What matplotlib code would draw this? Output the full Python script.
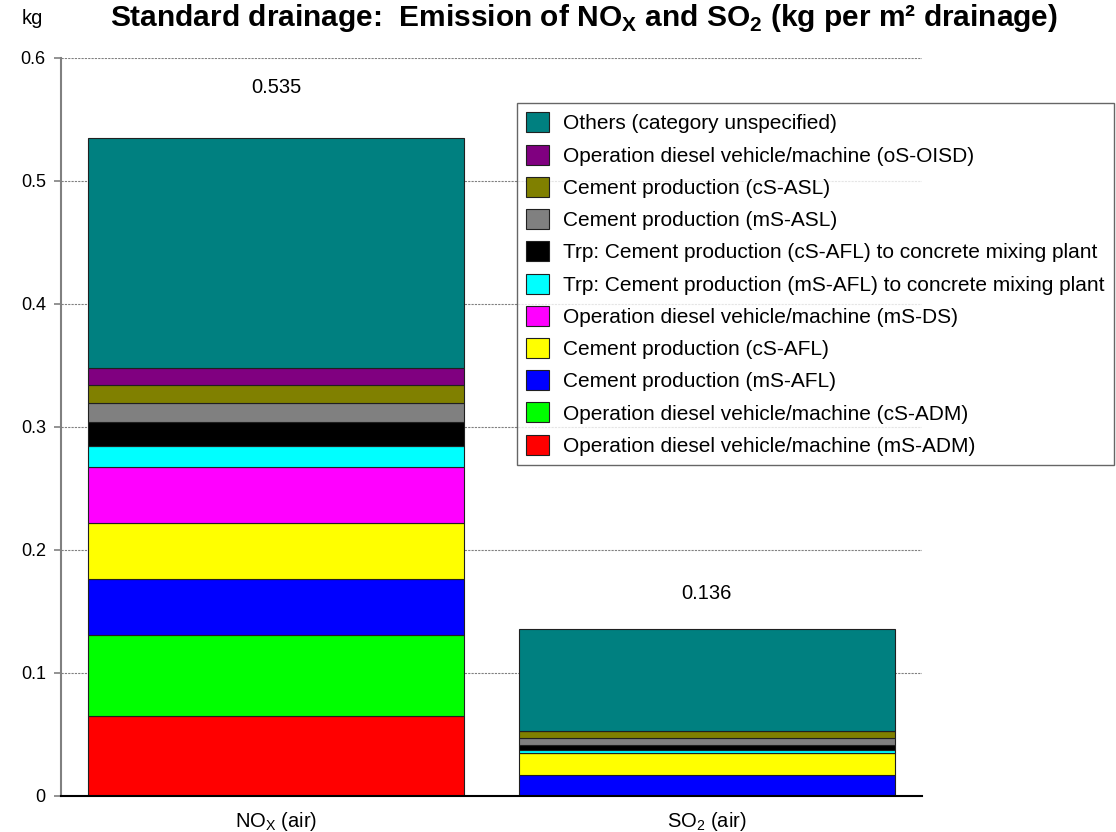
import matplotlib
matplotlib.use('Agg')
import matplotlib.pyplot as plt
import numpy as np

plt.rcParams['font.family'] = ['Liberation Sans', 'DejaVu Sans']
plt.rcParams['mathtext.fontset'] = 'custom'
plt.rcParams['mathtext.rm'] = 'Liberation Sans'
plt.rcParams['mathtext.bf'] = 'Liberation Sans:bold'

# data (kg per m2 drainage), stacked from bottom to top
categorias = [r'NO$_\mathregular{X}$ (air)', r'SO$_\mathregular{2}$ (air)']
totales = [0.535, 0.136]
componentes = [
    'Operation diesel vehicle/machine (mS-ADM)',
    'Operation diesel vehicle/machine (cS-ADM)',
    'Cement production (mS-AFL)',
    'Cement production (cS-AFL)',
    'Operation diesel vehicle/machine (mS-DS)',
    'Trp: Cement production (mS-AFL) to concrete mixing plant',
    'Trp: Cement production (cS-AFL) to concrete mixing plant',
    'Cement production (mS-ASL)',
    'Cement production (cS-ASL)',
    'Operation diesel vehicle/machine (oS-OISD)',
    'Others (category unspecified)',
]
nox = [0.0651, 0.0659, 0.0452, 0.0459, 0.0452, 0.0170, 0.0197, 0.0157, 0.0148, 0.0138, 0.1867]
so2 = [0.0, 0.0, 0.0173, 0.0176, 0.0003, 0.0024, 0.0037, 0.0060, 0.0054, 0.0005, 0.0828]
colores = ['#FF0000', '#00FF00', '#0000FF', '#FFFF00', '#FF00FF', '#00FFFF',
           '#000000', '#808080', '#808000', '#800080', '#008080']

fig = plt.figure(figsize=(11.16, 8.32), dpi=100)
ax = fig.add_axes([0.0547, 0.0433, 0.7715, 0.8870])

x = np.arange(len(categorias))
valores = np.array([nox, so2]).T
base = np.zeros(len(categorias))
handles = []
for i in range(len(componentes)):
    b = ax.bar(x, valores[i], 0.874, bottom=base, color=colores[i],
               edgecolor='#202020', linewidth=0.8, label=componentes[i], zorder=3)
    handles.append(b)
    base = base + valores[i]

# totals above the bars
label_pad = [36, 25]
for xi, tot, pad in zip(x, totales, label_pad):
    ax.annotate('%.3f' % tot, (xi, tot), xytext=(0, pad), textcoords='offset points',
                ha='center', va='center', fontsize=14.5)

ax.set_xlim(-0.5, 1.5)
ax.set_ylim(0, 0.6)
ax.set_yticks([0, 0.1, 0.2, 0.3, 0.4, 0.5, 0.6])
ax.set_yticklabels(['0', '0.1', '0.2', '0.3', '0.4', '0.5', '0.6'])
ax.set_xticks(x)
ax.set_xticklabels(categorias)
ax.tick_params(axis='x', length=0, labelsize=14.5, pad=10)
ax.tick_params(axis='y', length=5, width=1.2, color='#808080', labelsize=13, pad=6)
ax.yaxis.grid(True, linestyle=(0, (2, 1)), color='#808080', linewidth=0.8, zorder=0)
ax.spines['top'].set_visible(False)
ax.spines['right'].set_visible(False)
ax.spines['left'].set_color('#808080')
ax.spines['left'].set_linewidth(1.5)
ax.spines['bottom'].set_color('black')
ax.spines['bottom'].set_linewidth(1.5)
ax.spines['bottom'].set_zorder(4)

leg = ax.legend(handles[::-1], componentes[::-1], loc='upper left',
                bbox_to_anchor=(517 / 1116, 1 - 103 / 832), bbox_transform=fig.transFigure,
                fontsize=15, handlelength=1.1, handleheight=1.1, labelspacing=0.535,
                borderpad=0.45, handletextpad=0.65, fancybox=False, frameon=True,
                borderaxespad=0)
leg.get_frame().set_edgecolor('#404040')
leg.get_frame().set_linewidth(1.0)

fig.text(22 / 1116, 1 - 18 / 832, 'kg', fontsize=14.5, va='center', ha='left')
fig.text(110 / 1116, 1 - 18 / 832,
         r'Standard drainage:  Emission of NO$_\mathbf{X}$ and SO$_\mathbf{2}$ (kg per m² drainage)',
         fontsize=21.5, fontweight='bold', va='center', ha='left')

fig.savefig('out.png', dpi=100)
